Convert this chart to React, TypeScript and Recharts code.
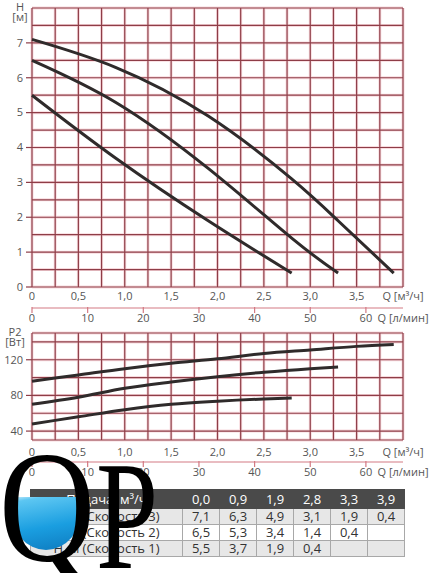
import { LineChart, Line, XAxis, YAxis, CartesianGrid } from 'recharts'

// flow points of the duty table, m³/h
const flowPoints = [0, 0.9, 1.9, 2.8, 3.3, 3.9]
const headSpeed3 = [7.1, 6.3, 4.9, 3.1, 1.9, 0.4]
const headSpeed2 = [6.5, 5.3, 3.4, 1.4, 0.4]
const headSpeed1 = [5.5, 3.7, 1.9, 0.4]

// power curves
const powerFlow3 = [0, 0.5, 1, 1.5, 2, 2.5, 3, 3.5, 3.9]
const power3 = [96, 103, 110, 116, 121, 127, 131, 135, 137]
const powerFlow2 = [0, 0.5, 1, 1.5, 2, 2.5, 3, 3.3]
const power2 = [70, 78, 88, 95, 101, 106, 110, 112]
const powerFlow1 = [0, 0.5, 1, 1.5, 2, 2.5, 2.8]
const power1 = [48, 56, 64, 70, 73.5, 76, 77]

const flowTicks = [0, 0.25, 0.5, 0.75, 1, 1.25, 1.5, 1.75, 2, 2.25, 2.5, 2.75, 3, 3.25, 3.5, 3.75, 4]
// l/min ticks, expressed on the m³/h scale (1 l/min = 0.06 m³/h)
const lpmLabels = [0, 10, 20, 30, 40, 50, 60]
const headTicks = [0, 0.5, 1, 1.5, 2, 2.5, 3, 3.5, 4, 4.5, 5, 5.5, 6, 6.5, 7, 7.5, 8]
const powerTicks = [30, 40, 60, 80, 100, 120, 140, 150]

const lpmTicks = [...lpmLabels.map((v) => v * 0.06), 4]

const FONT = '"Open Sans", "Noto Sans", sans-serif'
const LABEL = '#555'
const GRID_DARK = '#8e3d47'
const GRID_GLOW = '#f8dade'
const AXIS_RED = '#d37a83'
const CURVE = '#2f2b2b'

const pairs = (xs: number[], ys: number[]) => ys.map((y, i) => ({ q: xs[i], v: y }))

const fmtFlow = (v: number) => {
  if (v === 4) return 'Q [м³/ч]'
  if (v % 0.5 !== 0) return ''
  if (v === 0) return '0'
  return v.toFixed(1).replace('.', ',')
}

const fmtLpm = (v: number) => (v >= 4 ? 'Q [л/мин]' : String(Math.round(v / 0.06)))

function FlowTick(props: any) {
  const { x, y, payload } = props
  const txt = fmtFlow(payload.value)
  if (!txt) return null
  return (
    <text x={x} y={y} dy="0.71em" textAnchor="middle" fill={LABEL} fontSize={11} fontFamily={FONT}>
      {txt}
    </text>
  )
}

function LpmTick(props: any) {
  const { x, y, payload } = props
  const last = payload.value >= 4
  return (
    <g>
      {!last && <line x1={x} x2={x} y1={y - 7} y2={y - 1} stroke={AXIS_RED} strokeWidth={1.2} />}
      <text x={x} y={y} dy="0.71em" textAnchor="middle" fill={LABEL} fontSize={11} fontFamily={FONT}>
        {fmtLpm(payload.value)}
      </text>
    </g>
  )
}

function makeYTick(top: number, labels: number[], line1: string, line2: string, shift: number) {
  return function YTick(props: any) {
    const { x, y, payload } = props
    const v = payload.value
    if (v === top) {
      return (
        <g fill={LABEL} fontSize={11} fontFamily={FONT} textAnchor="middle">
          <text x={x - shift} y={y + 3}>{line1}</text>
          <text x={x - shift} y={y + 13}>{line2}</text>
        </g>
      )
    }
    if (!labels.includes(v)) return null
    return (
      <g>
        <line x1={x + 3} x2={x + 9} y1={y} y2={y} stroke={GRID_DARK} strokeWidth={1.2} />
        <text x={x} y={y} dy="0.35em" textAnchor="end" fill={LABEL} fontSize={11} fontFamily={FONT}>
          {v}
        </text>
      </g>
    )
  }
}

const HeadTick = makeYTick(8, [0, 1, 2, 3, 4, 5, 6, 7], 'H', '[м]', 3)
const PowerTick = makeYTick(150, [40, 80, 120], 'P2', '[Вт]', 8)

export default function App() {
  const head = [
    pairs(flowPoints, headSpeed3),
    pairs(flowPoints, headSpeed2),
    pairs(flowPoints, headSpeed1),
  ]
  const power = [pairs(powerFlow3, power3), pairs(powerFlow2, power2), pairs(powerFlow1, power1)]

  const rows = [
    { name: 'Н, м (Скорость 3)', vals: headSpeed3, bg: '#e7e7e7' },
    { name: 'Н, м (Скорость 2)', vals: headSpeed2, bg: '#ffffff' },
    { name: 'Н, м (Скорость 1)', vals: headSpeed1, bg: '#e7e7e7' },
  ]
  const fmt = (v: number) => v.toFixed(1).replace('.', ',')
  const cell: React.CSSProperties = {
    border: '1px solid #a8a8a8',
    textAlign: 'center',
    padding: 0,
    height: 15,
    lineHeight: '15px',
  }

  // the speed-1 curve is drawn on the l/min axis (same flow scale) so that axis gets its ticks
  const axisOf = (i: number) => (i === 2 ? 'lpm' : 0)

  return (
    <div style={{ position: 'absolute', left: 0, top: 0, width: 431, height: 573, background: '#fff', overflow: 'hidden', fontFamily: FONT }}>
      <div style={{ position: 'absolute', left: 0, top: 0 }}>
        <LineChart width={431} height={330} margin={{ top: 8, right: 28, bottom: 2, left: 0 }}>
          <CartesianGrid stroke={GRID_GLOW} strokeWidth={3} />
          <CartesianGrid stroke={GRID_DARK} strokeWidth={1.2} />
          <XAxis xAxisId={0} type="number" dataKey="q" domain={[0, 4]} ticks={flowTicks} interval={0}
            tick={<FlowTick />} tickLine={false} axisLine={false} tickSize={3} tickMargin={2} height={21} />
          <XAxis xAxisId="lpm" type="number" dataKey="q" domain={[0, 4]} ticks={lpmTicks} interval={0}
            tick={<LpmTick />} tickLine={false} axisLine={{ stroke: AXIS_RED, strokeWidth: 1.2 }} tickSize={4} tickMargin={2} height={20} />
          <YAxis type="number" domain={[0, 8]} ticks={headTicks} interval={0} width={32}
            tick={<HeadTick />} tickLine={false} axisLine={false} tickSize={6} tickMargin={3} />
          {head.map((d, i) => (
            <Line key={i} xAxisId={axisOf(i)} data={d} dataKey="v" type="natural" stroke={CURVE} strokeWidth={3} dot={false} isAnimationActive={false} />
          ))}
        </LineChart>
      </div>

      <div style={{ position: 'absolute', left: 0, top: 320 }}>
        <LineChart width={431} height={165} margin={{ top: 13, right: 28, bottom: 3, left: 0 }}>
          <CartesianGrid stroke={GRID_GLOW} strokeWidth={3} />
          <CartesianGrid stroke={GRID_DARK} strokeWidth={1.2} />
          <XAxis xAxisId={0} type="number" dataKey="q" domain={[0, 4]} ticks={flowTicks} interval={0}
            tick={<FlowTick />} tickLine={false} axisLine={false} tickSize={6} tickMargin={2} height={22} />
          <XAxis xAxisId="lpm" type="number" dataKey="q" domain={[0, 4]} ticks={lpmTicks} interval={0}
            tick={<LpmTick />} tickLine={false} axisLine={{ stroke: AXIS_RED, strokeWidth: 1.2 }} tickSize={4} tickMargin={2} height={20} />
          <YAxis type="number" domain={[30, 150]} ticks={powerTicks} interval={0} width={32}
            tick={<PowerTick />} tickLine={false} axisLine={false} tickSize={6} tickMargin={3} />
          {power.map((d, i) => (
            <Line key={i} xAxisId={axisOf(i)} data={d} dataKey="v" type="monotone" stroke={CURVE} strokeWidth={3} dot={false} isAnimationActive={false} />
          ))}
        </LineChart>
      </div>

      <table style={{ position: 'absolute', left: 30, top: 489, width: 373, borderCollapse: 'collapse', fontSize: 13, color: '#333', tableLayout: 'fixed' }}>
        <colgroup>
          <col style={{ width: 152 }} />
          {flowPoints.map((_, i) => <col key={i} style={{ width: 37 }} />)}
        </colgroup>
        <tbody>
          <tr style={{ background: '#4a4a4a', color: '#fff' }}>
            <td style={{ ...cell, height: 18, lineHeight: '18px', border: '1px solid #4a4a4a' }}>Подача, м³/ч</td>
            {flowPoints.map((q, i) => (
              <td key={i} style={{ ...cell, height: 18, lineHeight: '18px', border: '1px solid #4a4a4a', borderLeft: '1px solid #8a8a8a' }}>{fmt(q)}</td>
            ))}
          </tr>
          {rows.map((r) => (
            <tr key={r.name} style={{ background: r.bg }}>
              <td style={cell}>{r.name}</td>
              {flowPoints.map((_, i) => (
                <td key={i} style={cell}>{r.vals[i] !== undefined ? fmt(r.vals[i]) : ''}</td>
              ))}
            </tr>
          ))}
        </tbody>
      </table>

      <svg style={{ position: 'absolute', left: 0, top: 440, pointerEvents: 'none' }} width={200} height={133}>
        <defs>
          <linearGradient id="water" x1="0" y1="0" x2="0.3" y2="1">
            <stop offset="0" stopColor="#e8f7ff" />
            <stop offset="0.1" stopColor="#5cc6f2" />
            <stop offset="0.5" stopColor="#1a9ee0" />
            <stop offset="1" stopColor="#0a6fb4" />
          </linearGradient>
          <clipPath id="qin">
            <ellipse cx={46} cy={68} rx={36} ry={42} />
          </clipPath>
        </defs>
        <rect x={0} y={57} width={120} height={70} fill="url(#water)" clipPath="url(#qin)" />
        <text x={0} y={0} transform="translate(-1 120) scale(0.86 1.03)" fontFamily='"Liberation Serif", "DejaVu Serif", serif' fontSize={155} fill="#000">Q</text>
        <text x={0} y={0} transform="translate(96 128) scale(0.72 1)" fontFamily='"Liberation Serif", "DejaVu Serif", serif' fontSize={155} fill="#000">P</text>
      </svg>
    </div>
  )
}
